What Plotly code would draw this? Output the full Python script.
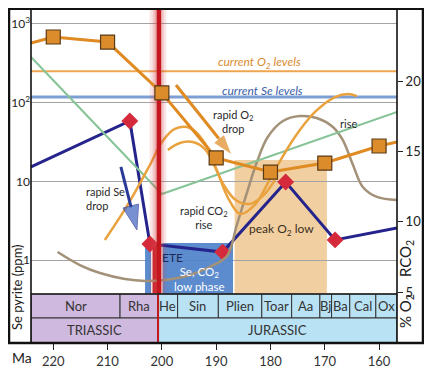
import plotly.graph_objects as go

# ---------------- data ----------------
# x axis: age in Ma (reversed)
X_RANGE = [224.1, 156.7]
SE_LOG_RANGE = [-0.432, 3.202]      # log10 ppm
O2_RANGE = [4.86, 25.19]            # % O2 / RCO2

# O2 proxy (squares) and its trend line (continues to plot edges)
o2_ma = [220, 210, 200, 190, 180, 170, 160]
o2_pct = [23.13, 22.77, 19.15, 14.53, 13.53, 14.17, 15.38]
o2_line_ma = [224.1, 220, 210, 200, 190, 180, 170, 160, 156.7]
o2_line_pct = [22.70, 23.13, 22.77, 19.15, 14.53, 13.53, 14.17, 15.38, 15.66]

# Se in pyrite (diamonds) and trend line
se_ma = [205.9, 202.2, 188.8, 177.2, 168.1]
se_ppm = [58.4, 1.6, 1.26, 9.8, 1.8]
se_line_ma = [224.1, 205.9, 202.2, 188.8, 177.2, 168.1, 156.7]
se_line_ppm = [15.2, 58.4, 1.6, 1.26, 9.8, 1.8, 2.55]

# present-day reference levels
current_o2 = 20.7
current_se = 118

# RCO2 (green)
co2_ma = [224.1, 200.0, 156.7]
co2_val = [21.71, 11.97, 17.80]

# conceptual curves
gray_ma = [219.2, 215.1, 211.4, 206.8, 203.1, 199.4, 194.8, 191.2, 188.0, 186.2, 184.3,
           182.5, 180.5, 177.7, 174.6, 171.5, 168.5, 166.7, 164.8, 163.0, 160.4, 156.7]
gray_val = [7.85, 6.92, 6.35, 5.93, 5.79, 5.86, 6.21, 6.78, 7.56, 9.77, 12.11,
            14.24, 16.02, 17.16, 17.51, 17.37, 16.73, 15.81, 14.03, 12.47, 11.76, 11.54]

orangeA_ma = [210.5, 206.3, 202.2, 200.0, 197.6, 194.8, 192.1, 189.9, 187.8, 185.6, 182.9,
              179.4, 175.5, 171.8, 168.1, 165.7, 164.1]
orangeA_val = [8.70, 11.19, 14.03, 15.66, 16.59, 16.66, 15.59, 13.67, 11.68, 10.55, 11.19,
               13.53, 16.02, 17.80, 18.86, 19.08, 18.93]
orangeB_ma = [198.9, 196.7, 194.3, 192.1, 190.4, 188.6, 186.4, 183.8, 181.4, 179.2]
orangeB_val = [15.10, 15.59, 15.66, 15.17, 14.03, 12.61, 11.54, 11.26, 11.83, 12.96]

# arrows (tail -> tip)
se_arrow_ma = [207.55, 204.6]
se_arrow_val = [13.89, 9.41]
o2_arrow_ma = [197.4, 187.1]
o2_arrow_val = [19.72, 14.74]

# intervals
ete_ma = 200.55
se_low_phase = [203.1, 186.9]
se_low_top_ppm = 1.64
peak_o2_low = [186.6, 169.6]
peak_o2_top = 14.39

# timescale
stage_bounds = [224.1, 207.7, 200.7, 197.1, 189.6, 181.6, 176.1, 170.9, 168.75, 165.4, 160.6, 156.7]
stage_names = ["Nor", "Rha", "He", "Sin", "Plien", "Toar", "Aa", "Bj", "Ba", "Cal", "Ox"]
period_bounds = [224.1, 200.7, 156.7]
period_names = ["TRIASSIC", "JURASSIC"]
x_ticks = [220, 210, 200, 190, 180, 170, 160]

# ---------------- styling ----------------
FONT = "Lato, 'Open Sans', sans-serif"
TXT = "#2a2a2a"
ORANGE = "#e08a22"
THIN_OR = "#e9a23d"
NAVY = "#24248c"
TRI = "#d0b9de"
JUR = "#b9e2f5"

# the page adds an 8 px body margin, so the figure is 8 px smaller than the window
W, H = 424, 368
ML, MR, MT, MB = 23, 35, 0, 33
PW = W - ML - MR
PH = H - MT - MB
DOM0 = 49 / PH  # fraction of plot height used by the timescale

def px(xpage):   # page x -> paper x
    return (xpage - 8 - ML) / PW

def py(ypage):   # page y -> paper y
    return (H - MB + 8 - ypage) / PH

se_lo = 10 ** SE_LOG_RANGE[0]
y2lo, y2hi = O2_RANGE

fig = go.Figure()

def line(x, y, color, width, yaxis="y2", shape="linear"):
    fig.add_trace(go.Scatter(x=x, y=y, mode="lines", yaxis=yaxis, hoverinfo="skip",
                             line=dict(color=color, width=width, shape=shape)))

def rect(x0, x1, ylo, yhi, fill, yaxis="y2", lcolor=None, lwidth=0):
    fig.add_trace(go.Scatter(x=[x0, x1, x1, x0, x0], y=[ylo, ylo, yhi, yhi, ylo],
                             mode="lines", fill="toself", fillcolor=fill, yaxis=yaxis,
                             hoverinfo="skip",
                             line=dict(color=lcolor or "rgba(0,0,0,0)", width=lwidth)))

# reference levels
line([X_RANGE[0], X_RANGE[1]], [current_o2, current_o2], "#eda650", 2)
line([X_RANGE[0], X_RANGE[1]], [current_se, current_se], "#7d9fd3", 3, yaxis="y")

# conceptual curves
line(gray_ma, gray_val, "#a39178", 2.5, shape="spline")
line(co2_ma, co2_val, "#86c397", 2)
line(orangeA_ma, orangeA_val, THIN_OR, 2.5, shape="spline")
line(orangeB_ma, orangeB_val, THIN_OR, 2.5, shape="spline")

# Se, CO2 low phase box
rect(se_low_phase[0], se_low_phase[1], se_lo, se_low_top_ppm, "rgba(80,130,202,0.93)", yaxis="y")

# ETE red band with soft halo
for hw, a in [(1.7, 0.14), (1.15, 0.18), (0.75, 0.25)]:
    rect(ete_ma + hw, ete_ma - hw * 0.8, y2lo, y2hi, f"rgba(214,70,70,{a})")
rect(ete_ma + 0.4, ete_ma - 0.4, y2lo, y2hi, "#c4161e")
rect(ete_ma + 1.3, ete_ma - 0.55, se_lo, se_low_top_ppm, "#c81e28", yaxis="y",
     lcolor="white", lwidth=1.5)

# O2 proxy
line(o2_line_ma, o2_line_pct, ORANGE, 3)
fig.add_trace(go.Scatter(x=o2_ma, y=o2_pct, mode="markers", yaxis="y2", hoverinfo="skip",
                         marker=dict(symbol="square", size=14, color="#dd8c2c",
                                     line=dict(color="#5a3a16", width=1.2))))

# Se line
line(se_line_ma, se_line_ppm, NAVY, 3, yaxis="y")
fig.add_trace(go.Scatter(x=se_ma, y=se_ppm, mode="markers", yaxis="y", hoverinfo="skip",
                         marker=dict(symbol="diamond", size=13, color="#d42a3c")))

# arrows
fig.add_trace(go.Scatter(x=se_arrow_ma, y=se_arrow_val, mode="lines+markers", yaxis="y2",
                         hoverinfo="skip", line=dict(color="#2b3a98", width=3),
                         marker=dict(symbol=["circle", "arrow"], size=[0, 26],
                                     angleref="previous", color="#3d62c0",
                                     line=dict(color="#2b3a98", width=1))))
fig.add_trace(go.Scatter(x=o2_arrow_ma, y=o2_arrow_val, mode="lines+markers", yaxis="y2",
                         hoverinfo="skip", line=dict(color=ORANGE, width=3),
                         marker=dict(symbol=["circle", "arrow"], size=[0, 22],
                                     angleref="previous", color=ORANGE)))

shapes = []
# peak O2 low box (behind everything)
shapes.append(dict(type="rect", xref="x", yref="y2", x0=peak_o2_low[0], x1=peak_o2_low[1],
                   y0=y2lo, y1=peak_o2_top, fillcolor="rgba(240,200,148,0.88)",
                   line=dict(width=0), layer="below"))

# timescale
ts_top = DOM0
ts_mid = 25 / PH
for i, name in enumerate(stage_names):
    x0, x1 = stage_bounds[i], stage_bounds[i + 1]
    col = TRI if x1 >= period_bounds[1] - 0.01 else JUR
    shapes.append(dict(type="rect", xref="x", yref="paper", x0=x0, x1=x1, y0=ts_mid, y1=ts_top,
                       fillcolor=col, line=dict(color="#333", width=1)))
for i, name in enumerate(period_names):
    x0, x1 = period_bounds[i], period_bounds[i + 1]
    shapes.append(dict(type="rect", xref="x", yref="paper", x0=x0, x1=x1, y0=0, y1=ts_mid,
                       fillcolor=TRI if i == 0 else JUR, line=dict(color="#333", width=1)))
shapes.append(dict(type="line", xref="x", yref="paper", x0=period_bounds[1], x1=period_bounds[1],
                   y0=0, y1=ts_top, line=dict(color="#c4161e", width=2)))
shapes.append(dict(type="line", xref="paper", yref="paper", x0=0, x1=1, y0=ts_top, y1=ts_top,
                   line=dict(color="#222", width=1.5)))
# axis lines and frame
for xp in (0, 1):
    shapes.append(dict(type="line", xref="paper", yref="paper", x0=xp, x1=xp, y0=0, y1=1,
                       line=dict(color="#111", width=1.6)))
shapes.append(dict(type="rect", xref="paper", yref="paper",
                   x0=px(9.0), x1=px(423), y0=0, y1=py(8.8),
                   line=dict(color="#111", width=2.5), fillcolor="rgba(0,0,0,0)"))

ann = []
def note(x, y, text, size=11, color=TXT, italic=False, xanchor="center", align="center",
         xref="x", yref="y2", angle=0):
    ann.append(dict(x=x, y=y, xref=xref, yref=yref, text=f"<i>{text}</i>" if italic else text,
                    showarrow=False, xanchor=xanchor, yanchor="middle", align=align,
                    textangle=angle, font=dict(family=FONT, size=size, color=color)))

note(182.1, 21.35, "current O<sub>2</sub> levels", 12, "#d98a2e", italic=True)
note(181.4, 19.36, "current Se levels", 12, "#3b5ea8", italic=True)
note(186.9, 17.09, "rapid O<sub>2</sub><br>drop", 11)
note(165.6, 17.01, "rise", 11)
note(214.4, 11.68, "rapid Se<br>drop", 11, xanchor="left", align="left")
note(192.3, 10.33, "rapid CO<sub>2</sub><br>rise", 11)
note(198.0, 7.49, "ETE", 12, "#1e2a55")
note(193.0, 5.95, "Se, CO<sub>2</sub><br>low phase", 11.5, "white")
note(178.0, 9.48, "peak O<sub>2</sub> low", 12, "#3a3020")

for i, name in enumerate(stage_names):
    note((stage_bounds[i] + stage_bounds[i + 1]) / 2, py(306), name, 13, "#333", yref="paper")
for i, name in enumerate(period_names):
    note((period_bounds[i] + period_bounds[i + 1]) / 2, py(330), name, 13, "#333", yref="paper")

note(px(17), py(287), "Se pyrite (ppm)", 13, "#222", xref="paper", yref="paper", angle=-90)
note(px(406), py(258), "RCO<sub>2</sub>", 15, "#222", xref="paper", yref="paper", angle=-90)
note(px(406), py(311), "% O<sub>2</sub>", 15, "#222", xref="paper", yref="paper", angle=-90)
note(px(22), py(357), "Ma", 14, "#222", xref="paper", yref="paper")

fig.update_layout(
    template="none",
    width=W, height=H, margin=dict(l=ML, r=MR, t=MT, b=MB, autoexpand=False),
    paper_bgcolor="white", plot_bgcolor="white", showlegend=False, hovermode=False,
    font=dict(family=FONT, size=13, color="#333"),
    shapes=shapes, annotations=ann,
    xaxis=dict(range=X_RANGE, anchor="free", position=0, tickvals=x_ticks, automargin=False,
               ticks="outside", ticklen=6, tickcolor="#222", showgrid=False,
               zeroline=False, showline=False, tickfont=dict(size=13, color="#333")),
    yaxis=dict(type="log", range=SE_LOG_RANGE, domain=[DOM0, 1], automargin=False,
               tickvals=[1, 10, 100, 1000], ticktext=["1", "10", "10<sup>2</sup>", "10<sup>3</sup>"],
               ticks="", showgrid=True,
               gridcolor="#a3a3a3", gridwidth=1, zeroline=False, showline=False,
               tickfont=dict(size=12, color="#222")),
    yaxis2=dict(range=O2_RANGE, overlaying="y", side="right", anchor="x", automargin=False,
                tickvals=[5, 10, 15, 20], ticks="outside", ticklen=5, tickcolor="#222",
                showgrid=False, zeroline=False, showline=False,
                tickfont=dict(size=13, color="#222")),
)

fig.write_html("out.html")
